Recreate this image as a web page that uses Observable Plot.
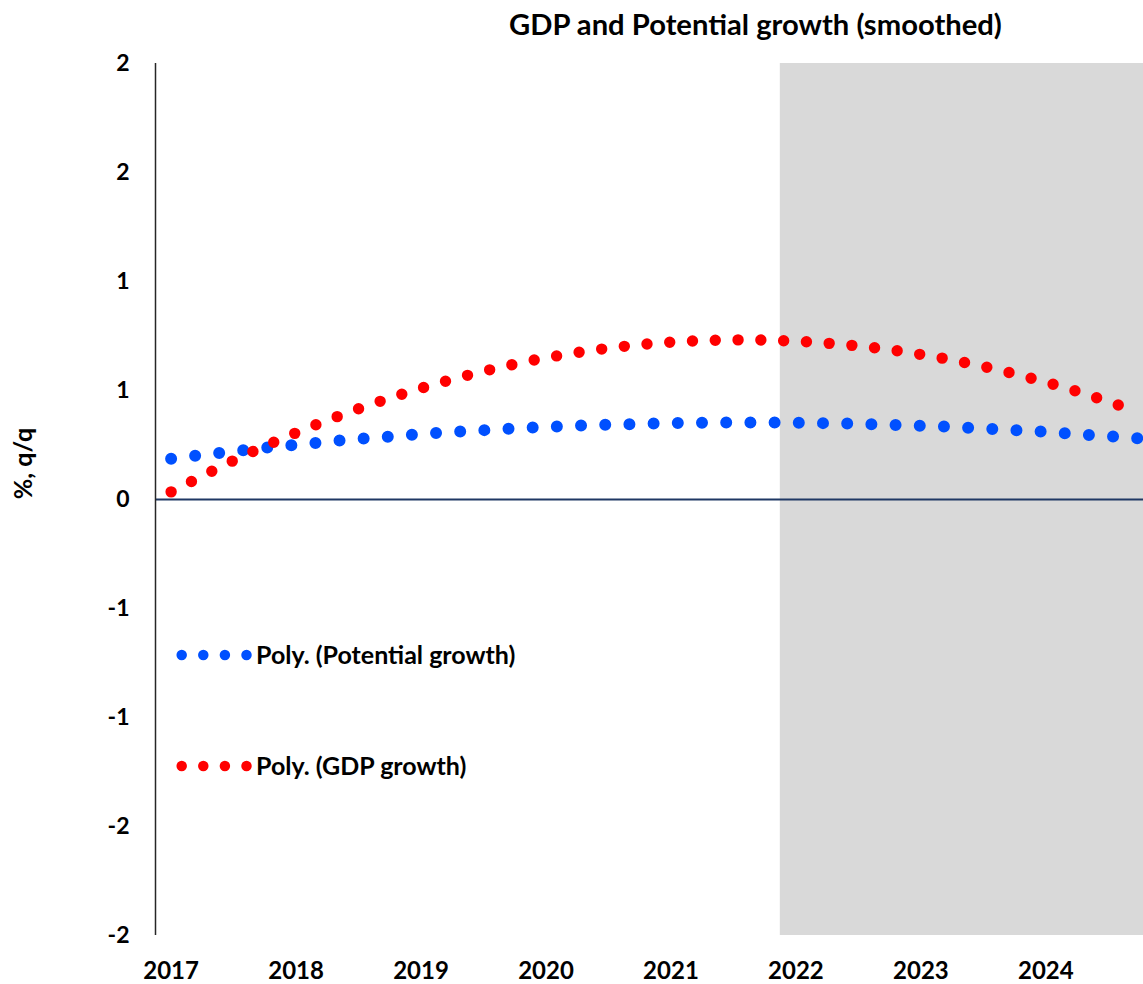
<!DOCTYPE html>
<html>
<head>
<meta charset="utf-8">
<script src="https://cdn.jsdelivr.net/npm/d3@7"></script>
<script src="https://cdn.jsdelivr.net/npm/@observablehq/plot@0.6"></script>
<style>
  body { margin: 0; background: #fff; }
  #wrap { position: relative; width: 1143px; height: 984px; overflow: hidden; font-family: Lato, sans-serif; }
  #title { position: absolute; left: 0; width: 1511px; top: 9px; text-align: center; font-weight: bold; font-size: 29.2px; line-height: 1; color: #000; white-space: nowrap; }
  #wrap svg { position: absolute; left: 0; top: 0; }
</style>
</head>
<body>
<div id="wrap"><div id="title"></div></div>
<script>
// ---- data ----
const title = "GDP and Potential growth (smoothed)";
const yLabel = "%, q/q";
const quarters = [
  "2017Q1","2017Q2","2017Q3","2017Q4","2018Q1","2018Q2","2018Q3","2018Q4",
  "2019Q1","2019Q2","2019Q3","2019Q4","2020Q1","2020Q2","2020Q3","2020Q4",
  "2021Q1","2021Q2","2021Q3","2021Q4","2022Q1","2022Q2","2022Q3","2022Q4",
  "2023Q1","2023Q2","2023Q3","2023Q4","2024Q1","2024Q2","2024Q3","2024Q4"
];
const potentialGrowth = [
  0.187,0.205,0.221,0.237,0.251,0.265,0.278,0.289,
  0.300,0.310,0.318,0.326,0.333,0.339,0.343,0.347,
  0.350,0.352,0.353,0.353,0.352,0.350,0.347,0.343,
  0.338,0.333,0.326,0.318,0.310,0.300,0.290,0.280
];
const gdpGrowth = [
  0.035,0.108,0.179,0.245,0.306,0.363,0.416,0.465,
  0.510,0.551,0.588,0.621,0.650,0.674,0.694,0.710,
  0.722,0.729,0.732,0.731,0.726,0.717,0.704,0.687,
  0.665,0.640,0.610,0.576,0.538,0.496,0.449,0.399
];
const seriesNames = ["Poly. (Potential growth)", "Poly. (GDP growth)"];
const seriesColors = ["#0050ff", "#ff0000"];
const yearTicks = [2017, 2018, 2019, 2020, 2021, 2022, 2023, 2024];
const yTicks = [-2, -1.5, -1, -0.5, 0, 0.5, 1, 1.5, 2];
const yTickLabels = ["-2", "-2", "-1", "-1", "0", "1", "1", "2", "2"];
const forecastStart = "2022Q1";

// ---- helpers ----
const qt = q => +q.slice(0, 4) + (+q.slice(5) - 1) / 4;
const halfQ = 0.125;
const xStart = qt(quarters[0]) - halfQ;
const xEnd = qt(quarters[quarters.length - 1]) + halfQ;
const yDomain = [yTicks[0], yTicks[yTicks.length - 1]];

const rows = quarters.map((q, i) => ({t: qt(q), pot: potentialGrowth[i], gdp: gdpGrowth[i]}));
const shade = [{x1: qt(forecastStart) - halfQ, x2: xEnd, y1: yDomain[0], y2: yDomain[1]}];

document.getElementById("title").textContent = title;

const plotLeft = 155, qWidth = 31.24;

const svg = Plot.plot({
  width: 1143,
  height: 984,
  marginTop: 63,
  marginBottom: 49,
  marginLeft: plotLeft,
  marginRight: 0,
  style: {fontFamily: "Lato, sans-serif", fontWeight: "bold", fontSize: "24px", color: "#000", background: "transparent"},
  x: {domain: [xStart, xEnd], range: [plotLeft, plotLeft + quarters.length * qWidth], label: null},
  y: {domain: yDomain, label: null},
  marks: [
    Plot.rect(shade, {x1: d => d.x1, x2: d => d.x2, y1: d => d.y1, y2: d => d.y2, fill: "#d9d9d9"}),
    Plot.ruleY([0], {stroke: "#1f3864", strokeWidth: 2}),
    Plot.line(rows, {x: "t", y: "pot", stroke: seriesColors[0], strokeWidth: 12, strokeDasharray: "0 24.2", strokeLinecap: "round", curve: "natural"}),
    Plot.line(rows, {x: "t", y: "gdp", stroke: seriesColors[1], strokeWidth: 11.4, strokeDasharray: "0 22.8", strokeLinecap: "round", curve: "natural"}),
    Plot.ruleX([xStart], {y1: yDomain[0], y2: yDomain[1], stroke: "#262626", strokeWidth: 1.5}),
    Plot.axisX({ticks: yearTicks, tickSize: 0, tickPadding: 26, tickFormat: d => String(d), fontSize: 24, fontWeight: "bold", fill: "#000", label: null}),
    Plot.axisY({ticks: yTicks, tickSize: 0, tickPadding: 26, tickFormat: d => yTickLabels[yTicks.indexOf(d)], fontSize: 23, fontWeight: "bold", fill: "#000", label: null})
  ]
});

const sel = d3.select(svg);

// y-axis title
sel.append("text")
  .attr("transform", "translate(32,463.5) rotate(-90)")
  .attr("text-anchor", "middle")
  .attr("font-size", 25).attr("font-weight", "bold").attr("fill", "#000")
  .attr("font-family", "Lato, sans-serif")
  .text(yLabel);

// legend (inside the plot area, lower left)
const lg = sel.append("g").attr("text-anchor", "start");
seriesNames.forEach((name, k) => {
  const cy = 655 + k * 111;
  lg.append("line")
    .attr("x1", 181.7).attr("x2", 248).attr("y1", cy).attr("y2", cy)
    .attr("stroke", seriesColors[k]).attr("stroke-width", 10.5)
    .attr("stroke-dasharray", "0 21.6").attr("stroke-linecap", "round");
  lg.append("text")
    .attr("x", 256).attr("y", cy + 8.6)
    .attr("text-anchor", "start")
    .attr("font-size", 25).attr("font-weight", "bold").attr("fill", "#000")
    .attr("font-family", "Lato, sans-serif")
    .text(name);
});

document.getElementById("wrap").appendChild(svg);
</script>
</body>
</html>
